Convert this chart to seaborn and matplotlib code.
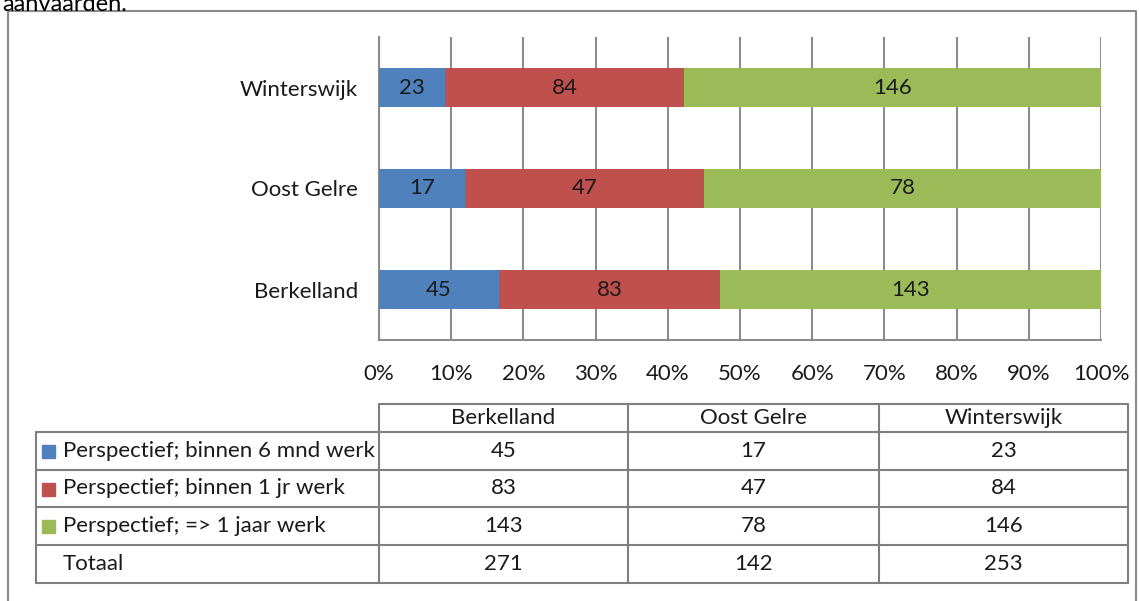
import numpy as np
import pandas as pd
import matplotlib
matplotlib.use("Agg")
import matplotlib.pyplot as plt
import seaborn as sns
from matplotlib.patches import Rectangle

# data
gemeenten = ["Berkelland", "Oost Gelre", "Winterswijk"]
series = ["Perspectief; binnen 6 mnd werk",
          "Perspectief; binnen 1 jr werk",
          "Perspectief; => 1 jaar werk"]
binnen_6_mnd = [45, 17, 23]
binnen_1_jr = [83, 47, 84]
meer_1_jaar = [143, 78, 146]
colors = ["#4F81BD", "#C0504D", "#9BBB59"]

df = pd.DataFrame({"gemeente": gemeenten,
                   series[0]: binnen_6_mnd,
                   series[1]: binnen_1_jr,
                   series[2]: meer_1_jaar})
df["Totaal"] = df[series].sum(axis=1)
order = gemeenten[::-1]  # Winterswijk on top

# cumulative shares for stacking
shares = df[series].div(df["Totaal"], axis=0)
cum = shares.cumsum(axis=1)
cum["gemeente"] = df["gemeente"]

sns.set_style("white")
plt.rcParams["font.family"] = ["Lato", "DejaVu Sans"]
FS = 16
GRID = "#8c8c8c"
TXT = "#1a1a1a"

W, H = 1139, 601
fig = plt.figure(figsize=(W / 100, H / 100), dpi=100)

# overlay for frame + table (pixel coords)
ov = fig.add_axes([0, 0, 1, 1])
ov.set_xlim(0, W)
ov.set_ylim(H, 0)
ov.axis("off")

ov.text(2, -6, "aanvaarden.", fontsize=17, color="#000000", va="top", ha="left")
ov.plot([8, 8, 1136, 1136], [603, 11, 11, 603], color="#8a8a8a", lw=1.5)

# chart axes
x0, x1, y0, y1 = 379, 1101, 37, 340
ax = fig.add_axes([x0 / W, 1 - y1 / H, (x1 - x0) / W, (y1 - y0) / H])

for i in range(len(series) - 1, -1, -1):
    sns.barplot(data=cum, y="gemeente", x=series[i], order=order, orient="h",
                color=colors[i], saturation=1, width=0.38, linewidth=0,
                ax=ax, zorder=3)

# labels in the middle of each segment
for j, g in enumerate(order):
    row = df[df["gemeente"] == g].iloc[0]
    left = 0.0
    for s in series:
        w = row[s] / row["Totaal"]
        ax.text(left + w / 2, j, str(row[s]), ha="center", va="center",
                fontsize=FS, color=TXT, zorder=4)
        left += w

ax.set_xlim(0, 1)
ax.set_ylim(2.5, -0.5)
ax.set_xticks(np.linspace(0, 1, 11))
ax.set_xticklabels([f"{int(round(v * 100))}%" for v in np.linspace(0, 1, 11)])
ax.set_yticks(range(3))
ax.set_yticks([-0.5, 0.5, 1.5, 2.5], minor=True)
ax.set_xlabel("")
ax.set_ylabel("")
ax.grid(axis="x", color=GRID, lw=1.5, zorder=0)
ax.set_axisbelow(True)
for sp in ["top", "right"]:
    ax.spines[sp].set_visible(False)
for sp in ["left", "bottom"]:
    ax.spines[sp].set_color(GRID)
    ax.spines[sp].set_linewidth(1.5)
ax.tick_params(axis="y", which="major", length=0, pad=15, labelsize=FS, labelcolor=TXT)
ax.tick_params(axis="y", which="minor", length=6, width=1.5, color=GRID, direction="out")
ax.tick_params(axis="x", length=6, width=1.5, color=GRID, direction="out", pad=11,
               labelsize=FS, labelcolor=TXT)

# data table
cols = [36, 379, 628, 879, 1128]
rows = [404, 432, 470, 507, 545, 583]
lc = "#7f7f7f"
# horizontal lines
ov.plot([cols[1], cols[-1]], [rows[0], rows[0]], color=lc, lw=1.5)
for yv in rows[1:]:
    ov.plot([cols[0], cols[-1]], [yv, yv], color=lc, lw=1.5)
# vertical lines
ov.plot([cols[0], cols[0]], [rows[1], rows[-1]], color=lc, lw=1.5)
for xv in cols[1:]:
    ov.plot([xv, xv], [rows[0], rows[-1]], color=lc, lw=1.5)

for k, g in enumerate(gemeenten):
    cx = (cols[k + 1] + cols[k + 2]) / 2
    ov.text(cx, (rows[0] + rows[1]) / 2, g, ha="center", va="center", fontsize=FS, color=TXT)
    vals = list(df.loc[k, series]) + [df.loc[k, "Totaal"]]
    for r, v in enumerate(vals):
        ov.text(cx, (rows[r + 1] + rows[r + 2]) / 2, str(v), ha="center", va="center",
                fontsize=FS, color=TXT)

row_labels = series + ["Totaal"]
for r, lab in enumerate(row_labels):
    cy = (rows[r + 1] + rows[r + 2]) / 2
    if r < len(series):
        ov.add_patch(Rectangle((42, cy - 6), 13, 13, color=colors[r]))
    ov.text(63, cy, lab, ha="left", va="center", fontsize=FS, color=TXT)

fig.savefig("out.png", dpi=100)
